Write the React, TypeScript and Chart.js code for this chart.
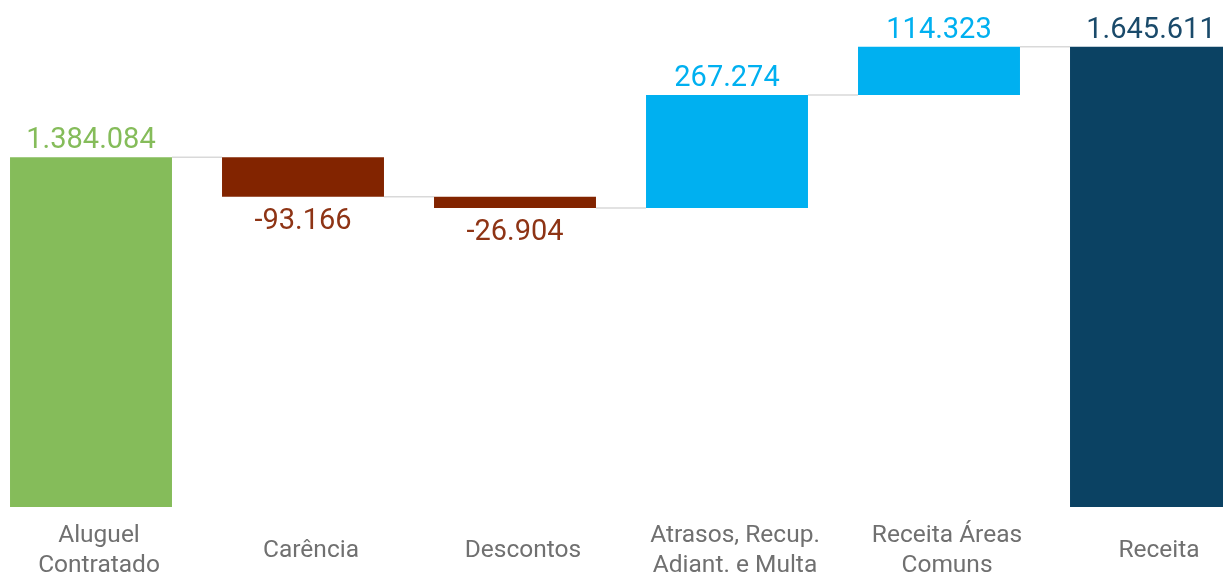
import React, { useEffect, useRef } from "react";
import { Chart, registerables } from "chart.js";

Chart.register(...registerables);

// ---- Data ----
const categories: (string | string[])[] = [
  ["Aluguel", "Contratado"],
  "Carência",
  "Descontos",
  ["Atrasos, Recup.", "Adiant. e Multa"],
  ["Receita Áreas", "Comuns"],
  "Receita",
];
const values = [1384084, -93166, -26904, 267274, 114323, 1645611];
const isTotal = [true, false, false, false, false, true];
const barColors = ["#85BC5A", "#822400", "#822400", "#00B0F0", "#00B0F0", "#0B4263"];
const labelColors = ["#85BC5A", "#8E3415", "#8E3415", "#00B0F0", "#00B0F0", "#1A4A6A"];
const yMin = 557000;
const yMax = 1756000;

// Build floating ranges and running levels
const ranges: [number, number][] = [];
const levels: number[] = [];
{
  let running = 0;
  values.forEach((v, i) => {
    if (isTotal[i]) {
      running = v;
      ranges.push([0, v]);
    } else {
      const s = running;
      running += v;
      ranges.push([s, running]);
    }
    levels.push(running);
  });
}

function fmt(v: number): string {
  const neg = v < 0;
  const s = Math.abs(Math.round(v)).toString().replace(/\B(?=(\d{3})+(?!\d))/g, ".");
  return (neg ? "-" : "") + s;
}

const waterfallPlugin = {
  id: "waterfall",
  beforeDatasetsDraw(chart: any) {
    const ctx = chart.ctx;
    const meta = chart.getDatasetMeta(0);
    const yScale = chart.scales.y;
    ctx.save();
    ctx.strokeStyle = "#D9D9D9";
    ctx.lineWidth = 1.5;
    for (let i = 0; i < meta.data.length - 1; i++) {
      const a = meta.data[i].getProps(["x", "width"], true);
      const b = meta.data[i + 1].getProps(["x", "width"], true);
      const y = yScale.getPixelForValue(levels[i]);
      ctx.beginPath();
      ctx.moveTo(a.x + a.width / 2, y);
      ctx.lineTo(b.x - b.width / 2, y);
      ctx.stroke();
    }
    ctx.restore();
  },
  afterDatasetsDraw(chart: any) {
    const ctx = chart.ctx;
    const meta = chart.getDatasetMeta(0);
    ctx.save();
    ctx.font = "400 29px Roboto";
    ctx.textAlign = "center";
    ctx.textBaseline = "alphabetic";
    meta.data.forEach((el: any, i: number) => {
      const p = el.getProps(["x", "y", "base"], true);
      const top = Math.min(p.y, p.base);
      const bottom = Math.max(p.y, p.base);
      ctx.fillStyle = labelColors[i];
      if (values[i] >= 0) {
        ctx.fillText(fmt(values[i]), p.x, top - 9);
      } else {
        ctx.fillText(fmt(values[i]), p.x, bottom + 32);
      }
    });
    ctx.restore();
  },
};

export default function App() {
  const ref = useRef<HTMLCanvasElement | null>(null);

  useEffect(() => {
    if (!ref.current) return;
    const chart = new Chart(ref.current, {
      type: "bar",
      data: {
        labels: categories as any,
        datasets: [
          {
            data: ranges as any,
            backgroundColor: barColors,
            borderWidth: 0,
            barPercentage: 0.764,
            categoryPercentage: 1,
          },
        ],
      },
      options: {
        responsive: false,
        maintainAspectRatio: false,
        animation: false,
        layout: { padding: 0 },
        plugins: {
          legend: { display: false },
          tooltip: { enabled: false },
        },
        scales: {
          x: {
            grid: { display: false, drawTicks: false },
            border: { display: false },
            ticks: {
              font: { family: "Roboto", size: 24.5, lineHeight: 1.22 },
              color: "#707070",
              padding: 29,
              labelOffset: 8,
              crossAlign: "center",
              maxRotation: 0,
              autoSkip: false,
            },
            afterFit: (s: any) => {
              s.height = 67;
            },
          },
          y: { display: false, min: yMin, max: yMax },
        },
      },
      plugins: [waterfallPlugin],
    });
    return () => chart.destroy();
  }, []);

  return (
    <div
      style={{
        position: "fixed",
        left: 0,
        top: 0,
        width: 1223,
        height: 574,
        overflow: "hidden",
        background: "#ffffff",
      }}
    >
      <canvas
        ref={ref}
        width={1272}
        height={574}
        style={{ position: "absolute", left: -15, top: 0, width: 1272, height: 574 }}
      />
    </div>
  );
}
